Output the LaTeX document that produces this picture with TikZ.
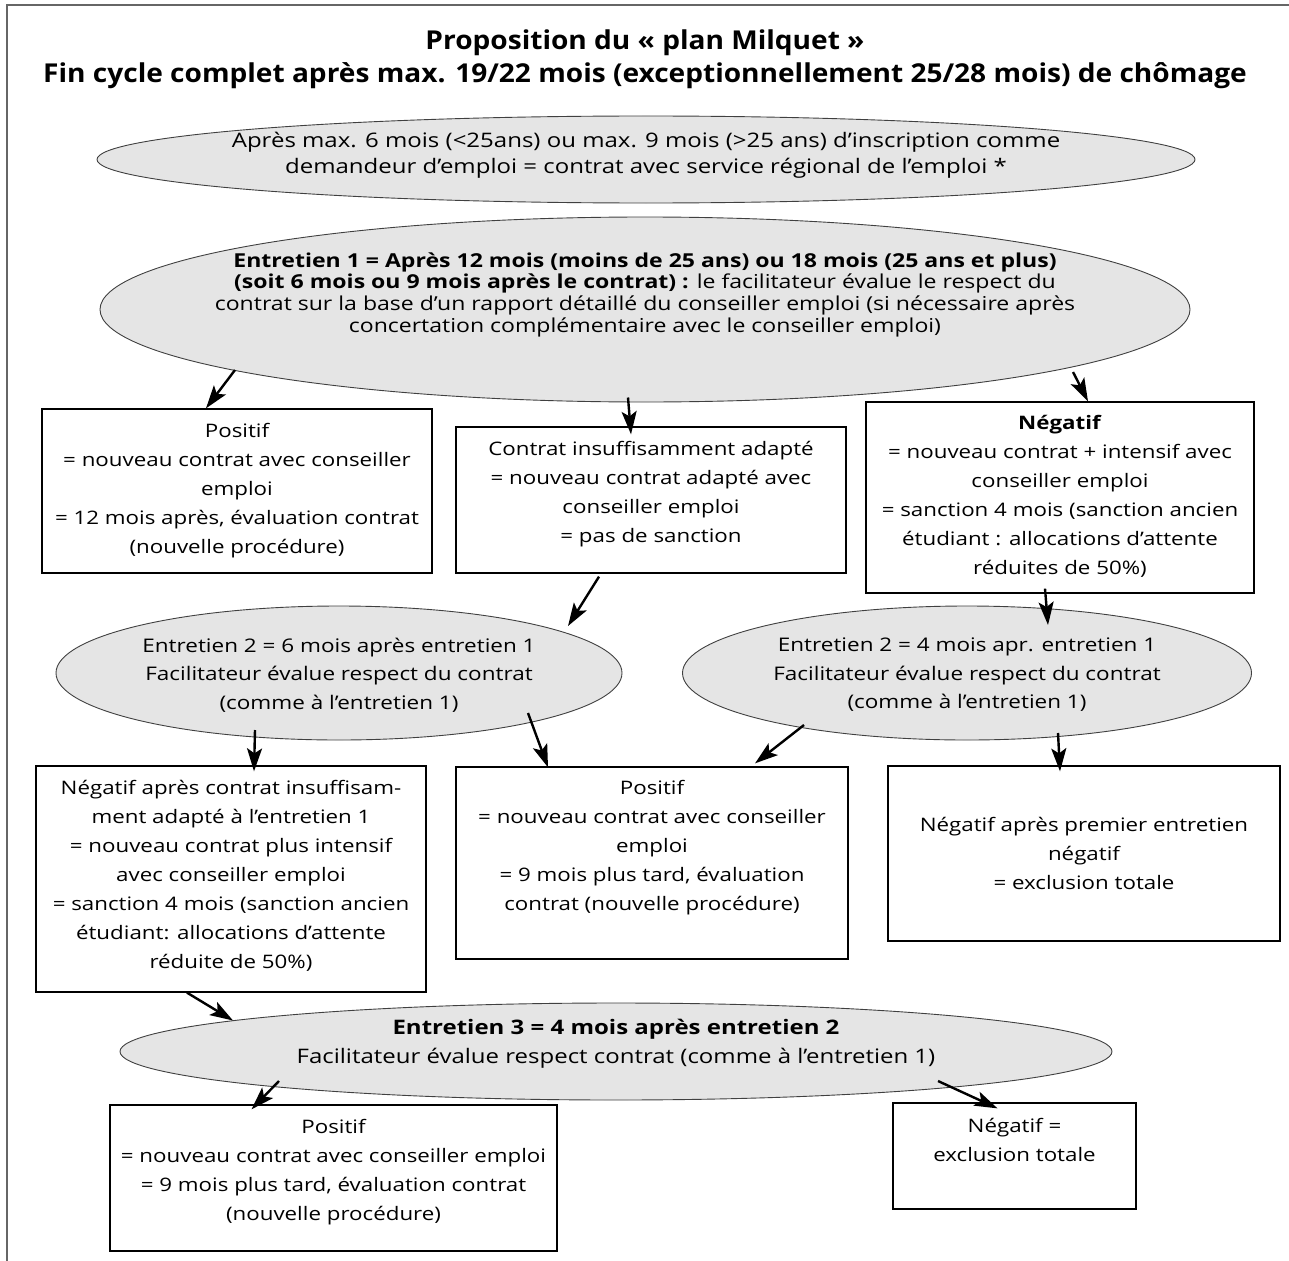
\documentclass[tikz,border=0pt]{standalone}
\usepackage{fontspec}
\setmainfont[FakeStretch=1.2]{Open Sans}
\newfontfamily\titlefam[FakeStretch=1.08]{Open Sans}
\usetikzlibrary{shapes.geometric,arrows.meta,calc}
\newcommand{\boxfont}{\fontsize{18.6}{29}\selectfont}
\newcommand{\eonefont}{\fontsize{20}{26}\selectfont}
\newcommand{\etwofont}{\fontsize{19.2}{21.7}\selectfont}
\newcommand{\ethreefont}{\fontsize{20}{29}\selectfont}
\newcommand{\smallellfont}{\fontsize{18.75}{28.5}\selectfont}
\newcommand{\titlefont}{\titlefam\fontsize{26}{33}\selectfont\bfseries}
\tikzset{
  ell/.style={ellipse, draw=black!75, line width=0.9pt, fill=black!10, inner sep=0pt},
  txt/.style={align=center, inner sep=0pt},
  box/.style={rectangle, draw=black, line width=1.3pt, inner sep=0pt, align=center, font=\boxfont},
  arr/.style={-{Stealth[length=23pt,width=15pt,inset=5pt]}, line width=2.4pt},
}
\begin{document}
\begin{tikzpicture}[x=1pt,y=-1pt]
\useasboundingbox (0,0) rectangle (1289,1260);
% frame (only top and left visible)
\draw[black!60, line width=1.4pt] (7,1262) -- (7,5) -- (1291,5);

% title
\node[font=\titlefont, inner sep=0pt, anchor=base] (title1) at (645,50) {Proposition du «~plan Milquet~»};
\node[font=\titlefont, inner sep=0pt, anchor=base] (title2) at (645,83) {Fin cycle complet après max. 19/22 mois (exceptionnellement 25/28 mois) de chômage};

% ellipse 1
\node[ell, minimum width=1098pt, minimum height=87pt] (e1) at (646,159.5) {};
\node[txt, font=\eonefont] (e1t) at (646,155) {Après max. 6 mois (<25ans) ou max. 9 mois (>25 ans) d’inscription comme\\demandeur d’emploi = contrat avec service régional de l’emploi *};

% ellipse 2
\node[ell, minimum width=1090pt, minimum height=185pt] (e2) at (645,309.5) {};
\node[txt, font=\etwofont] (e2t) at (645,294.5) {\bfseries Entretien 1 = Après 12 mois (moins de 25 ans) ou 18 mois (25 ans et plus)\\{\bfseries (soit 6 mois ou 9 mois après le contrat) :} le facilitateur évalue le respect du\\contrat sur la base d’un rapport détaillé du conseiller emploi (si nécessaire après\\concertation complémentaire avec le conseiller emploi)};

% row 1 boxes
\node[box, minimum width=390pt, minimum height=164pt] (bA) at (237,491)
  {Positif\\= nouveau contrat avec conseiller\\emploi\\= 12 mois après, évaluation contrat\\(nouvelle procédure)\\[-24pt]\mbox{}};
\node[box, minimum width=390pt, minimum height=146pt] (bB) at (651,500)
  {Contrat insuffisamment adapté\\= nouveau contrat adapté avec\\conseiller emploi\\= pas de sanction\\[-13pt]\mbox{}};
\node[box, minimum width=388pt, minimum height=191pt] (bC) at (1060,497.5)
  {\textbf{Négatif}\\= nouveau contrat + intensif avec\\conseiller emploi\\= sanction 4 mois (sanction ancien\\étudiant : allocations d’attente\\réduites de 50\%)\\[-23pt]\mbox{}};

% row 2 ellipses
\node[ell, minimum width=566pt, minimum height=134pt] (e2a) at (339,673) {};
\node[txt, font=\smallellfont] (e2at) at (339,675) {Entretien 2 = 6 mois après entretien 1\\Facilitateur évalue respect du contrat\\(comme à l’entretien 1)};
\node[ell, minimum width=569pt, minimum height=134pt] (e2b) at (967,673) {};
\node[txt, font=\smallellfont] (e2bt) at (967,675) {Entretien 2 = 4 mois apr. entretien 1\\Facilitateur évalue respect du contrat\\(comme à l’entretien 1)};

% row 3 boxes
\node[box, minimum width=390pt, minimum height=226pt] (bD) at (231,879)
  {Négatif après contrat insuffisam-\\ment adapté à l’entretien 1\\= nouveau contrat plus intensif\\avec conseiller emploi\\= sanction 4 mois (sanction ancien\\étudiant: allocations d’attente\\réduite de 50\%)\\[-20pt]\mbox{}};
\node[box, minimum width=392pt, minimum height=192pt] (bE) at (652,863)
  {Positif\\= nouveau contrat avec conseiller\\emploi\\= 9 mois plus tard, évaluation\\contrat (nouvelle procédure)\\[6pt]\mbox{}};
\node[box, minimum width=392pt, minimum height=175pt] (bF) at (1084,853.5)
  {Négatif après premier entretien\\négatif\\= exclusion totale};

% ellipse 3
\node[ell, minimum width=992pt, minimum height=97pt] (e3) at (616,1051.5) {};
\node[txt, font=\ethreefont] (e3t) at (616,1043.5) {\textbf{Entretien 3 = 4 mois après entretien 2}\\Facilitateur évalue respect contrat (comme à l’entretien 1)};

% bottom boxes
\node[box, minimum width=447pt, minimum height=146pt] (bG) at (333.5,1178)
  {Positif\\= nouveau contrat avec conseiller emploi\\= 9 mois plus tard, évaluation contrat\\(nouvelle procédure)\\[-13pt]\mbox{}};
\node[box, minimum width=243pt, minimum height=106pt] (bH) at (1014.5,1156)
  {Négatif =\\exclusion totale\\[3pt]\mbox{}};

% arrows
\draw[arr] ($(e2.center)+(-410,60.5)$) -- ($(bA.north)+(-31,0)$);
\draw[arr] ($(e2.center)+(-17,88)$) -- ($(bB.north)+(-20,8)$);
\draw[arr] ($(e2.center)+(428,62.5)$) -- ($(bC.north)+(28,0)$);
\draw[arr] ($(bB.south)+(-52,3)$) -- ($(e2a.center)+(229,-47)$);
\draw[arr] ($(bC.south)+(-15,-5)$) -- ($(e2b.center)+(81,-48)$);
\draw[arr] ($(e2a.center)+(-84,57)$) -- ($(bD.north)+(23,6)$);
\draw[arr] ($(e2a.center)+(189,40)$) -- ($(bE.north)+(-104,1)$);
\draw[arr] ($(e2b.center)+(-163,52)$) -- ($(bE.north)+(103,-3)$);
\draw[arr] ($(e2b.center)+(91,60)$) -- ($(bF.north)+(-24,6)$);
\draw[arr] ($(bD.south)+(-44,0)$) -- ($(e3.center)+(-383,-31)$);
\draw[arr] ($(e3.center)+(-337,29.5)$) -- ($(bG.north)+(-82,5)$);
\draw[arr] ($(e3.center)+(322,29.5)$) -- ($(bH.north)+(-17,6)$);
\end{tikzpicture}
\end{document}
